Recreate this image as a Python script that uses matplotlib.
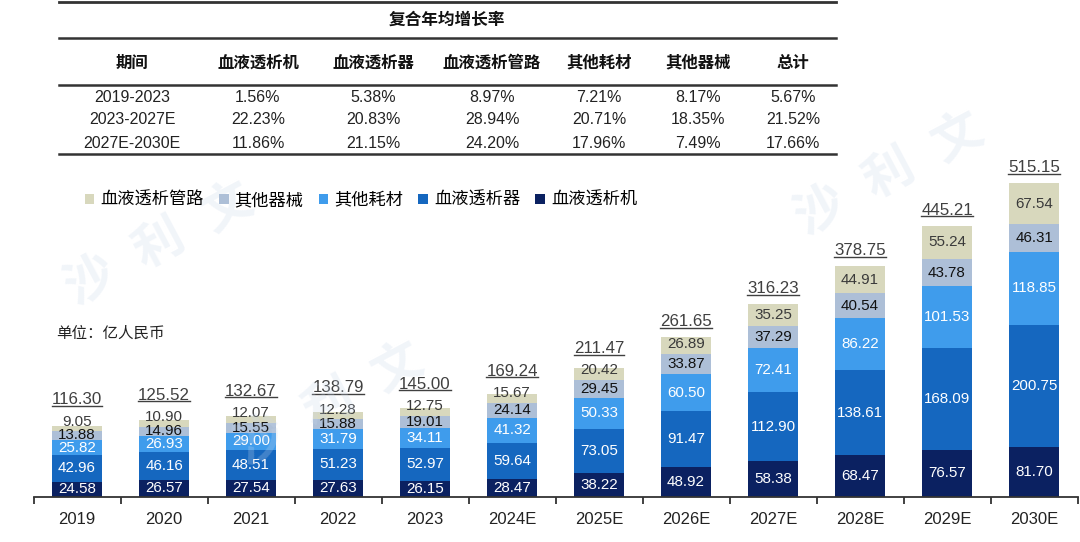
import numpy as np
import matplotlib
matplotlib.use("Agg")
import matplotlib.pyplot as plt
from matplotlib.lines import Line2D

plt.rcParams['font.family'] = ['Liberation Sans', 'Noto Sans CJK SC']

# 数据（亿人民币）
years = ['2019', '2020', '2021', '2022', '2023', '2024E',
         '2025E', '2026E', '2027E', '2028E', '2029E', '2030E']
machine = [24.58, 26.57, 27.54, 27.63, 26.15, 28.47, 38.22, 48.92, 58.38, 68.47, 76.57, 81.70]
dialyzer = [42.96, 46.16, 48.51, 51.23, 52.97, 59.64, 73.05, 91.47, 112.90, 138.61, 168.09, 200.75]
consumables = [25.82, 26.93, 29.00, 31.79, 34.11, 41.32, 50.33, 60.50, 72.41, 86.22, 101.53, 118.85]
equipment = [13.88, 14.96, 15.55, 15.88, 19.01, 24.14, 29.45, 33.87, 37.29, 40.54, 43.78, 46.31]
tubing = [9.05, 10.90, 12.07, 12.28, 12.75, 15.67, 20.42, 26.89, 35.25, 44.91, 55.24, 67.54]
totals = [116.30, 125.52, 132.67, 138.79, 145.00, 169.24, 211.47, 261.65, 316.23, 378.75, 445.21, 515.15]

# 复合年均增长率表
cagr_header = ['期间', '血液透析机', '血液透析器', '血液透析管路', '其他耗材', '其他器械', '总计']
cagr_rows = [
    ['2019-2023', '1.56%', '5.38%', '8.97%', '7.21%', '8.17%', '5.67%'],
    ['2023-2027E', '22.23%', '20.83%', '28.94%', '20.71%', '18.35%', '21.52%'],
    ['2027E-2030E', '11.86%', '21.15%', '24.20%', '17.96%', '7.49%', '17.66%'],
]

series = [
    ('血液透析机', machine, '#0b2161', 'white'),
    ('血液透析器', dialyzer, '#1567bf', 'white'),
    ('其他耗材', consumables, '#3f9cec', 'white'),
    ('其他器械', equipment, '#adbfd7', '#111111'),
    ('血液透析管路', tubing, '#d8d8bd', '#3a3a3a'),
]

W, H = 1080, 542
fig = plt.figure(figsize=(W / 100, H / 100), dpi=100)


def fx(px):
    return px / W


def fy(py):
    return 1 - py / H


ax = fig.add_axes([fx(33.5), fy(496.5), fx(1044), 0.640])
x = np.arange(len(years))
bottom = np.zeros(len(years))
bars = {}
for name, vals, color, tcolor in series:
    vals = np.array(vals)
    bars[name] = ax.bar(x, vals, 0.575, bottom=bottom, color=color, label=name, zorder=2)
    for i, v in enumerate(vals):
        yc = bottom[i] + v / 2
        if name == '血液透析管路':
            yc = max(yc, bottom[i] + 16)
        ax.text(x[i], yc, f'{v:.2f}', ha='center', va='center',
                color=tcolor, fontsize=10.9, zorder=3)
    bottom += vals

ax.set_xlim(-0.5, 11.5)
ax.set_ylim(0, 570)

# 总计标签（带下划线）
tot_texts = []
for i, t in enumerate(totals):
    pipe_y = max(bottom[i] - tubing[i] / 2, bottom[i] - tubing[i] + 16)
    yt = max(bottom[i] + 25, pipe_y + 36)
    tt = ax.text(x[i], yt, f'{t:.2f}', ha='center', va='center',
                 color='#404040', fontsize=12.2, zorder=3)
    tot_texts.append(tt)

for s in ['top', 'right', 'left']:
    ax.spines[s].set_visible(False)
ax.spines['bottom'].set_color('#333333')
ax.spines['bottom'].set_linewidth(1.3)
ax.set_yticks([])
ax.set_xticks(x, years)
ax.tick_params(axis='x', which='major', length=0, pad=11, labelsize=12, labelcolor='#222222')
ax.set_xticks(np.arange(-0.5, 12), minor=True)
ax.tick_params(axis='x', which='minor', length=5, width=1.3, color='#333333')

fig.canvas.draw()
renderer = fig.canvas.get_renderer()
inv = ax.transData.inverted()
for tt in tot_texts:
    bb = tt.get_window_extent(renderer)
    (x0, y0), (x1, _) = inv.transform([[bb.x0, bb.y0 + 1.5], [bb.x1, bb.y0]])
    ax.add_line(Line2D([x0, x1], [y0, y0], color='#404040', lw=1.0, zorder=3))

# 图例
handles = [bars[n] for n in ['血液透析管路', '其他器械', '其他耗材', '血液透析器', '血液透析机']]
fig.legend(handles, [h.get_label() for h in handles], loc='center left',
           bbox_to_anchor=(fx(85), fy(200)), ncol=5, frameon=False,
           fontsize=12.4, handlelength=0.55, handleheight=0.55,
           handletextpad=0.35, columnspacing=0.88, borderpad=0, borderaxespad=0)

fig.text(fx(56), fy(333), '单位：亿人民币', ha='left', va='center', fontsize=11.2, color='#222222')

# 表格
col_x = [132, 258, 373, 492, 599, 698, 793]
for yy, lw in [(2, 2.0), (38, 1.8), (85, 1.8), (154, 1.8)]:
    fig.add_artist(Line2D([fx(59), fx(836)], [fy(yy), fy(yy)], color='#333333',
                          lw=lw, transform=fig.transFigure))
fig.text(fx(447), fy(20), '复合年均增长率', ha='center', va='center',
         fontsize=12, fontweight='bold', color='#111111')
for cx, h in zip(col_x, cagr_header):
    fig.text(fx(cx), fy(63), h, ha='center', va='center', fontsize=11.8,
             fontweight='bold', color='#111111')
for ry, row in zip([97, 120, 143], cagr_rows):
    for cx, v in zip(col_x, row):
        fig.text(fx(cx), fy(ry), v, ha='center', va='center', fontsize=11.5, color='#222222')

# 水印
for wx, wy in [(160, 245), (330, 405), (890, 175)]:
    fig.text(fx(wx), fy(wy), '沙  利  文', ha='center', va='center', fontsize=36,
             fontweight='bold', rotation=28, color='#c9d7ea', alpha=0.25, zorder=5)

fig.savefig('out.png', dpi=100)
